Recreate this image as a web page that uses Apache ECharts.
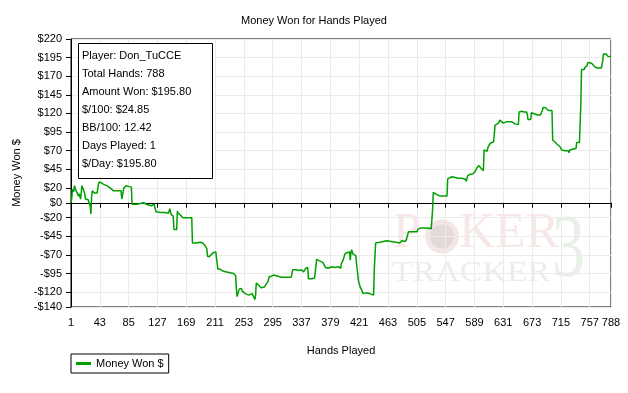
<!DOCTYPE html>
<html><head><meta charset="utf-8">
<script src="https://cdn.jsdelivr.net/npm/echarts@6/dist/echarts.min.js"></script>
<style>html,body{margin:0;padding:0;background:#fff}#c{width:628px;height:393px}</style>
</head><body><div id="c"></div>
<script>
const hands = [1,2,3,5,6,8,10,12,13,15,17,18,19,21,22,26,28,29,30,31,32,35,39,41,42,45,48,53,58,60,63,74,75,77,78,81,85,89,90,97,107,111,118,122,125,131,138,140,143,145,147,150,151,155,156,157,160,164,166,170,177,178,184,189,193,196,199,200,203,205,208,212,214,215,218,220,223,228,233,238,241,242,243,244,246,249,251,255,260,265,267,269,270,271,274,278,280,283,285,288,290,293,296,300,308,315,322,324,330,334,337,340,343,346,347,352,356,358,359,363,368,372,376,381,383,386,391,394,395,398,400,403,405,407,408,409,410,412,416,418,420,422,425,427,431,436,442,443,445,451,461,468,475,480,483,488,490,491,493,500,505,507,510,520,526,528,529,534,539,541,544,549,550,552,556,561,565,570,575,577,579,582,587,590,592,595,597,599,602,603,607,609,612,614,617,619,621,624,626,628,631,636,638,643,648,653,654,658,661,665,666,667,671,672,675,677,681,685,688,689,692,694,697,702,703,705,706,709,711,714,716,721,726,727,728,731,733,737,738,742,743,744,745,749,750,753,754,757,760,762,765,769,774,775,776,777,781,783,788];
const won = [0,5,18,15,23,17,13,9,12,5,23,25,18,12,5,4,2,-4,-15,8,16,13,13,25,28,27,25,23,20,18,16,16,5,5,20,23,22,21,-2,-2,0,-2,-4,-2,-12,-13,-13,-12,-14,-8,-16,-18,-36,-36,-11,-14,-16,-20,-19,-20,-20,-54,-54,-53,-54,-57,-62,-72,-72,-71,-67,-66,-65,-89,-89,-91,-92,-93,-94,-95,-98,-116,-126,-123,-116,-115,-119,-122,-124,-122,-124,-130,-124,-108,-110,-114,-112,-113,-110,-106,-99,-99,-97,-98,-100,-100,-100,-90,-90,-91,-90,-93,-88,-87,-102,-102,-101,-100,-76,-78,-80,-87,-88,-86,-84,-87,-86,-88,-82,-76,-69,-67,-65,-66,-77,-67,-63,-69,-71,-89,-105,-112,-118,-122,-121,-122,-124,-90,-54,-53,-51,-52,-53,-54,-51,-52,-49,-45,-39,-39,-39,-35,-34,-34,-35,-9,14,11,9,7,9,9,32,34,35,34,33,33,32,29,36,38,39,42,46,50,48,46,43,71,69,75,80,82,82,104,104,107,111,109,107,109,110,109,106,105,122,123,122,122,119,112,112,121,120,119,118,118,124,128,128,127,124,124,84,84,82,79,77,75,71,70,70,67,71,72,73,73,81,81,80,131,179,179,182,184,188,188,187,185,182,181,181,180,191,200,200,197,195.8];
const xTicks = [1,43,85,127,169,211,253,295,337,379,421,463,505,547,589,631,673,715,757,788];
const yTicks = [-140,-120,-95,-70,-45,-20,0,20,45,70,95,120,145,170,195,220];
const infoLines = ['Player: Don_TuCCE','Total Hands: 788','Amount Won: $195.80','$/100: $24.85','BB/100: 12.42','Days Played: 1','$/Day: $195.80'];
const seriesName = 'Money Won $';
const titleText = 'Money Won for Hands Played';

const FF = 'Liberation Sans';
const chart = echarts.init(document.getElementById('c'), null, {renderer:'canvas'});
const data = hands.map((h,i)=>[h, won[i]]);
const money = v => v < 0 ? '-$' + (-v) : '$' + v;

chart.setOption({
  animation:false,
  backgroundColor:'#fff',
  title:{text:titleText,left:'center',top:15,padding:0,textStyle:{fontFamily:FF,fontSize:11,fontWeight:'normal',color:'#000'}},
  grid:{left:71,right:17,top:39,bottom:86,show:true,borderColor:'#000',borderWidth:1,backgroundColor:'transparent'},
  legend:{left:71,top:354,borderColor:'#000',borderWidth:1,borderRadius:0,padding:[4,5,4,5],itemWidth:15,itemHeight:3,icon:'rect',
    textStyle:{fontFamily:FF,fontSize:11,color:'#000'},data:[seriesName]},
  xAxis:{type:'value',min:1,max:788,name:'Hands Played',nameLocation:'middle',nameGap:38,
    nameTextStyle:{fontFamily:FF,fontSize:11,color:'#000'},
    axisLine:{lineStyle:{color:'#000'}},
    axisTick:{customValues:xTicks,length:5,lineStyle:{color:'#000'}},
    axisLabel:{customValues:xTicks,fontFamily:FF,fontSize:11,color:'#000',margin:10,hideOverlap:false},
    splitLine:{show:true,lineStyle:{color:'#ebebeb',width:1}}},
  yAxis:{type:'value',min:-140,max:220,name:'Money Won $',nameLocation:'middle',nameGap:43,nameRotate:90,
    nameTextStyle:{fontFamily:FF,fontSize:11,color:'#000'},
    axisLine:{show:true,lineStyle:{color:'#000'}},
    axisTick:{show:true,customValues:yTicks,length:5,lineStyle:{color:'#000'}},
    axisLabel:{customValues:yTicks,formatter:money,fontFamily:FF,fontSize:11,color:'#000',margin:9,hideOverlap:false},
    splitLine:{show:true,lineStyle:{color:'#ebebeb',width:1}}},
  graphic:[
    {type:'text',z:0,left:393,top:209,style:{text:'P',font:'50px "Liberation Serif"',fill:'#f7e7e7'}},
    {type:'circle',z:0,shape:{cx:442,cy:236.5,r:17},style:{fill:'#f5e6e6'}},
    {type:'circle',z:0,shape:{cx:442,cy:236.5,r:12},style:{fill:'#e3d9d9'}},
    {type:'text',z:0,left:459,top:209,style:{text:'KER',font:'50px "Liberation Serif"',fill:'#f7e7e7'}},
    {type:'text',z:0,left:392,top:258,scaleX:1.13,style:{text:'TRACKER',font:'30px "Liberation Serif"',fill:'#ebedeb'}},
    {type:'text',z:0,left:552,top:208,scaleX:0.75,style:{text:'3',font:'88px "Liberation Serif"',fill:'#e8f0e8'}},
    {type:'rect',z:100,shape:{x:78.5,y:43.5,width:134,height:135},style:{fill:'#fff',stroke:'#000',lineWidth:1}},
    {type:'text',z:101,left:82,top:47,style:{text:infoLines.join('\n'),font:'11px "Liberation Sans"',fill:'#000',lineHeight:18}}
  ],
  series:[{name:seriesName,type:'line',data:data,showSymbol:false,symbol:'none',
    lineStyle:{color:'#00a000',width:1.5},itemStyle:{color:'#00a000'},z:5,
    markLine:{silent:true,symbol:'none',label:{show:false},lineStyle:{color:'#000',type:'solid',width:1},data:[{yAxis:0}]}}]
});
</script></body></html>
